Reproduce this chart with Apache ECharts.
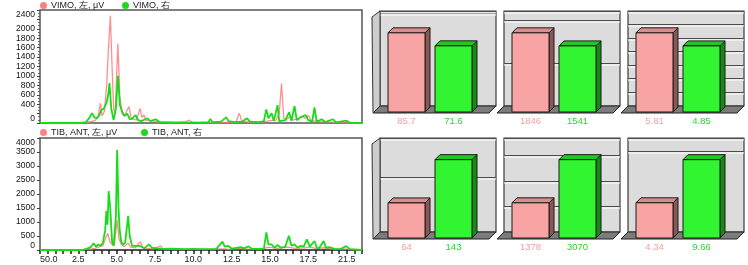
<!DOCTYPE html>
<html><head><meta charset="utf-8">
<script src="https://cdn.jsdelivr.net/npm/echarts@6/dist/echarts.min.js"></script>
<style>html,body{margin:0;padding:0;background:#fff}#c{width:748px;height:265px}</style>
</head><body><div id="c"></div>
<script>
// ---------- DATA ----------
const vimoNames = ['VIMO, 左, μV', 'VIMO, 右'];
const tibNames = ['TIB, ANT, 左, μV', 'TIB, ANT, 右'];
const xTickLabels = ['50.0','2.5','5.0','7.5','10.0','12.5','15.0','17.5','21.5'];
const vimoHiddenTicks = [200, 2200];

const vimoLeft = [[0,0],[2.5,0],[3.0,10],[3.3,30],[3.6,50],[3.8,150],[3.94,420],[4.05,150],[4.2,250],[4.35,800],[4.45,1500],[4.59,2280],[4.7,1200],[4.8,300],[4.9,200],[5.08,1690],[5.2,600],[5.35,200],[5.5,150],[5.6,120],[5.8,350],[5.95,100],[6.1,80],[6.3,60],[6.52,310],[6.65,120],[6.78,170],[6.9,60],[7.2,50],[7.6,30],[8.0,20],[8.5,20],[9.0,20],[9.5,30],[9.73,60],[9.9,20],[10.5,10],[11.5,10],[12.5,20],[12.8,30],[13.0,210],[13.15,40],[13.6,20],[14.5,20],[15.0,50],[15.4,60],[15.6,200],[15.75,840],[15.9,100],[16.1,80],[16.3,130],[16.5,60],[16.85,100],[17.1,150],[17.3,100],[17.5,160],[17.7,50],[18.2,30],[19,20],[20,10],[21,0]];
const vimoRight = [[0,0],[2.6,0],[3.0,20],[3.2,100],[3.39,210],[3.55,120],[3.7,100],[3.85,150],[4.0,280],[4.15,300],[4.33,420],[4.45,600],[4.53,850],[4.65,300],[4.8,60],[4.95,300],[5.08,1000],[5.21,380],[5.35,250],[5.5,150],[5.69,200],[5.85,80],[6.0,90],[6.23,170],[6.4,60],[6.6,40],[7.0,100],[7.2,40],[7.55,80],[7.8,20],[8.5,15],[9.5,10],[10.5,15],[11.0,20],[11.1,85],[11.25,20],[11.8,30],[12.14,120],[12.3,40],[12.7,20],[13.2,30],[13.5,100],[13.7,30],[14.3,20],[14.6,40],[14.76,290],[14.9,100],[15.1,210],[15.25,40],[15.35,60],[15.49,380],[15.6,40],[16.0,60],[16.25,230],[16.4,50],[16.6,360],[16.75,60],[17.0,120],[17.32,170],[17.5,60],[17.75,30],[17.9,330],[18.05,30],[18.37,80],[18.6,20],[19.1,80],[19.3,15],[20.0,50],[20.2,10],[21,0]];
const tibLeft = [[0,0],[2.7,0],[3.0,40],[3.3,30],[3.6,60],[3.9,120],[4.1,150],[4.3,450],[4.42,600],[4.55,300],[4.7,200],[4.85,150],[5.03,1070],[5.15,400],[5.3,200],[5.5,120],[5.75,250],[5.9,100],[6.2,80],[6.56,300],[6.7,80],[7.0,60],[7.4,40],[7.87,150],[8.0,30],[9,20],[10,20],[11,20],[12,40],[12.3,20],[13,60],[13.5,30],[14.5,40],[14.9,100],[15.5,60],[16.2,100],[16.6,60],[17.3,80],[17.6,100],[18,60],[18.5,80],[19,40],[20,30],[21,0]];
const tibRight = [[0,0],[2.8,0],[3.0,30],[3.3,100],[3.5,240],[3.65,120],[3.8,200],[3.95,150],[4.1,250],[4.25,700],[4.33,1390],[4.4,900],[4.48,2100],[4.58,1500],[4.7,300],[4.8,150],[4.95,1200],[5.03,3570],[5.12,1500],[5.2,680],[5.3,300],[5.4,200],[5.55,250],[5.75,1220],[5.85,500],[6.0,150],[6.5,150],[6.6,100],[6.8,60],[7.1,200],[7.3,80],[7.6,60],[8.0,40],[8.5,50],[9.0,40],[9.5,30],[10,40],[10.5,30],[11,30],[11.5,40],[11.9,300],[12.05,120],[12.25,150],[12.5,50],[13.1,100],[13.3,60],[13.6,130],[13.8,50],[14.3,40],[14.6,50],[14.76,630],[14.9,200],[15.1,200],[15.3,80],[15.5,180],[15.7,80],[16.0,120],[16.23,510],[16.4,150],[16.6,200],[16.8,80],[17.0,150],[17.2,120],[17.4,380],[17.6,120],[17.9,320],[18.05,80],[18.2,60],[18.5,320],[18.65,80],[18.87,100],[19.2,40],[19.6,30],[19.97,140],[20.2,30],[21,0]];

const barValues = [[85.7,71.6],[1846,1541],[5.81,4.85],[64,143],[1378,3070],[4.34,9.66]];
const barIntervals = [100,1000,1,100,1000,10];

// ---------- STYLE / LAYOUT ----------
const FONT = '"Liberation Sans", Arial, sans-serif';
const RED = '#ff8080', GREEN = '#18dc18';
const redFront = '#f9a4a4', redTop = '#d98e8e', redSide = '#8c5656';
const grnFront = '#30f530', grnTop = '#22c822', grnSide = '#138c13';
const labelColors = ['#f5a0a0', '#2ed52e'];

const chart = echarts.init(document.getElementById('c'), null, {renderer:'canvas'});

const grids = [
  {left:40, top:10, width:322, height:113, show:true, borderColor:'#555', borderWidth:1.5, backgroundColor:'#fff'},
  {left:40, top:138, width:322, height:112, show:true, borderColor:'#555', borderWidth:1.5, backgroundColor:'#fff'}
];
const xAxes = [
  {gridIndex:0, type:'value', min:0, max:21, interval:2.5, axisLine:{show:false}, axisTick:{show:false}, axisLabel:{show:false}, splitLine:{show:false}},
  {gridIndex:1, type:'value', min:0, max:21, interval:2.5,
   axisLine:{show:true, lineStyle:{color:'#444', width:1.5}},
   axisTick:{show:true, length:4, lineStyle:{color:'#222', width:1.5}},
   minorTick:{show:true, splitNumber:5, length:4, lineStyle:{color:'#222', width:1.5}},
   axisLabel:{fontSize:9, fontFamily:FONT, color:'#222', margin:5, alignMinLabel:'left',
     formatter:v => { const i = Math.round(v/2.5); return Math.abs(i*2.5 - v) < 1e-6 && xTickLabels[i] !== undefined ? xTickLabels[i] : ''; }},
   splitLine:{show:false}}
];
const yAxes = [
  {gridIndex:0, type:'value', min:0, max:2400, interval:200,
   axisLine:{show:false}, axisTick:{show:true, length:3, lineStyle:{color:'#444'}},
   minorTick:{show:true, splitNumber:3, length:2, lineStyle:{color:'#666'}},
   axisLabel:{fontSize:8.5, fontFamily:FONT, color:'#111', margin:5, verticalAlignMaxLabel:'top', verticalAlignMinLabel:'bottom',
     formatter:v => vimoHiddenTicks.includes(v) ? '' : String(v)},
   splitLine:{show:false}},
  {gridIndex:1, type:'value', min:0, max:4000, interval:500,
   axisLine:{show:false}, axisTick:{show:true, length:3, lineStyle:{color:'#444'}},
   axisLabel:{fontSize:8.5, fontFamily:FONT, color:'#111', margin:5, verticalAlignMaxLabel:'top', verticalAlignMinLabel:'bottom',
     formatter:v => String(v)},
   splitLine:{show:false}}
];

const series = [
  {name:vimoNames[0], type:'line', xAxisIndex:0, yAxisIndex:0, data:vimoLeft, showSymbol:false, itemStyle:{color:RED}, lineStyle:{color:'rgba(255,115,115,0.8)', width:1.3}},
  {name:vimoNames[1], type:'line', xAxisIndex:0, yAxisIndex:0, data:vimoRight, showSymbol:false, itemStyle:{color:GREEN}, lineStyle:{color:GREEN, width:1.8}},
  {name:tibNames[0], type:'line', xAxisIndex:1, yAxisIndex:1, data:tibLeft, showSymbol:false, itemStyle:{color:RED}, lineStyle:{color:'rgba(255,115,115,0.8)', width:1.3}},
  {name:tibNames[1], type:'line', xAxisIndex:1, yAxisIndex:1, data:tibRight, showSymbol:false, itemStyle:{color:GREEN}, lineStyle:{color:GREEN, width:1.8}}
];

const legendBase = {icon:'circle', itemWidth:7, itemHeight:7, itemGap:4, padding:0, selectedMode:false,
  textStyle:{fontSize:9, fontFamily:FONT, color:'#222', padding:[0,0,0,-1]}};
const legends = [
  Object.assign({}, legendBase, {left:40, top:1, data:[vimoNames[0]]}),
  Object.assign({}, legendBase, {left:122, top:1, data:[vimoNames[1]]}),
  Object.assign({}, legendBase, {left:40, top:128, data:[tibNames[0]]}),
  Object.assign({}, legendBase, {left:141, top:128, data:[tibNames[1]]})
];

// bar panels
const colLeft = [380, 504, 628];
const rowTop = [11, 138];
const rowH = [95, 94];
const WALL_W = 116;
const PXU = 47; // px per x unit in wall coords
const X_MIN = -33.5 / PXU;
const graphics = [];
const FD = 7; // floor depth

barValues.forEach((vals, p) => {
  const col = p % 3, row = Math.floor(p / 3);
  const L = colLeft[col], T = rowTop[row], H = rowH[row], B = T + H;
  const gi = grids.length;
  grids.push({left:L, top:T, width:WALL_W, height:H, show:true, backgroundColor:'#dcdcdc', borderColor:'#3a3a3a', borderWidth:1.2});
  xAxes.push({gridIndex:gi, type:'value', min:X_MIN, max:X_MIN + WALL_W/PXU, show:false});
  yAxes.push({gridIndex:gi, type:'value', min:0, max:Math.max(...vals)*1.2, interval:barIntervals[p],
    axisLine:{show:false}, axisTick:{show:false}, axisLabel:{show:false},
    splitLine:{show:true, lineStyle:{color:'#4a4a4a', width:1, shadowColor:'#ffffff', shadowOffsetY:1.5, shadowBlur:0}}});
  // floor
  graphics.push({type:'polygon', z:1, shape:{points:[[L,B],[L+WALL_W,B],[L+WALL_W-FD,B+FD],[L-FD,B+FD]]},
    style:{fill:'#7c7c7c', stroke:'#222', lineWidth:1}});
  if (col === 0) {
    graphics.push({type:'polygon', z:1, shape:{points:[[L-8,T+6],[L,T],[L,B],[L-FD,B+FD]]},
      style:{fill:'#cdcdcd', stroke:'#333', lineWidth:1}});
  }
  series.push({
    type:'custom', xAxisIndex:gi, yAxisIndex:gi, z:3,
    data: vals.map((v, i) => [i, v]),
    renderItem: (params, api) => {
      const i = api.value(0), v = api.value(1);
      const pb = api.coord([i, 0]), pt = api.coord([i, v]);
      const cx = pb[0] - 7, yb = pb[1] + 6, yt = pt[1] + 6;
      const w = 37, d = 5;
      const x0 = cx - w/2, x1 = cx + w/2;
      const isRed = i === 0;
      const st = {stroke:'#1a1a1a', lineWidth:1};
      return {type:'group', children:[
        {type:'polygon', shape:{points:[[x1,yt],[x1+d,yt-d],[x1+d,yb-d],[x1,yb]]}, style:Object.assign({fill:isRed?redSide:grnSide}, st)},
        {type:'polygon', shape:{points:[[x0,yt],[x0+d,yt-d],[x1+d,yt-d],[x1,yt]]}, style:Object.assign({fill:isRed?redTop:grnTop}, st)},
        {type:'rect', shape:{x:x0, y:yt, width:w, height:yb-yt}, style:Object.assign({fill:isRed?redFront:grnFront}, st)},
        {type:'text', style:{text:String(v), x:cx, y:yb+9.5, align:'center', verticalAlign:'middle',
          fill:labelColors[i], fontSize:9.5, fontFamily:FONT}}
      ]};
    }
  });
});

chart.setOption({
  animation:false,
  backgroundColor:'#fff',
  legend:legends,
  grid:grids,
  xAxis:xAxes,
  yAxis:yAxes,
  graphic:graphics,
  series:series
});
</script></body></html>
